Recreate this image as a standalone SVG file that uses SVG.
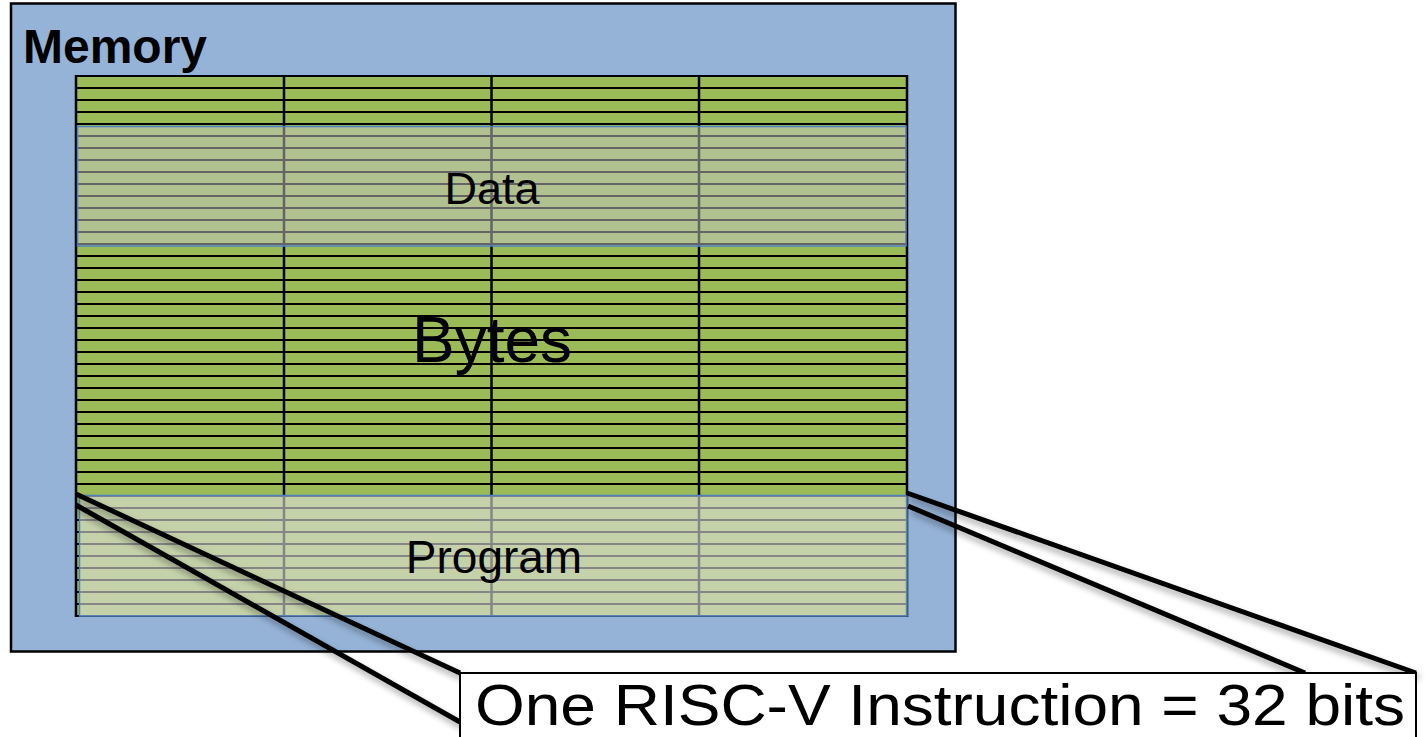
<svg xmlns="http://www.w3.org/2000/svg" width="1426" height="737" viewBox="0 0 1426 737">
  <defs>
    <style>
      .lbl { font-family: "Liberation Sans", Arial, sans-serif; fill: #000; }
      .row { stroke: #000; stroke-width: 2.2; }
      .col { stroke: #000; stroke-width: 2.5; }
      .link { stroke: #000; stroke-width: 5; fill: none; stroke-linecap: butt; }
    </style>
    <filter id="shadow" x="-10%" y="-10%" width="120%" height="130%">
      <feDropShadow dx="3" dy="5" stdDeviation="3" flood-color="#000" flood-opacity="0.35"/>
    </filter>
  </defs>

  <rect width="1426" height="737" fill="#ffffff"/>

  <!-- memory container -->
  <g id="memory">
    <rect x="11" y="3.5" width="944.5" height="648" fill="#95b3d7" stroke="#000" stroke-width="2.5"/>
    <text class="lbl" x="23" y="63" font-size="48" font-weight="bold">Memory</text>
  </g>

  <!-- byte grid: 45 rows of 12px, 4 columns -->
  <g id="bytes">
    <rect x="76" y="76" width="831" height="540" fill="#9bbb59"/>
    <g class="row">
      <path d="M76 76H907M76 88H907M76 100H907M76 112H907M76 124H907M76 136H907M76 148H907M76 160H907M76 172H907M76 184H907M76 196H907M76 208H907M76 220H907M76 232H907M76 244H907M76 256H907M76 268H907M76 280H907M76 292H907M76 304H907M76 316H907M76 328H907M76 340H907M76 352H907M76 364H907M76 376H907M76 388H907M76 400H907M76 412H907M76 424H907M76 436H907M76 448H907M76 460H907M76 472H907M76 484H907M76 496H907M76 508H907M76 520H907M76 532H907M76 544H907M76 556H907M76 568H907M76 580H907M76 592H907M76 604H907M76 616H907"/>
    </g>
    <g class="col">
      <path d="M76 75V617M284 75V617M491.5 75V617M699 75V617M907 75V617"/>
    </g>
    <text class="lbl" x="492" y="362" font-size="64" text-anchor="middle">Bytes</text>
  </g>

  <!-- data segment -->
  <g id="data">
    <rect x="77.5" y="126.5" width="828.5" height="119.5" fill="#c8c8c8" fill-opacity="0.5" stroke="#4f81bd" stroke-width="1.5"/>
    <text class="lbl" x="492" y="204" font-size="45" text-anchor="middle">Data</text>
  </g>

  <!-- program segment -->
  <g id="program">
    <rect x="79.5" y="495.5" width="827.5" height="120.5" fill="#e0e0e0" fill-opacity="0.6" stroke="#4f81bd" stroke-width="1.5"/>
    <text class="lbl" x="494" y="573" font-size="46" text-anchor="middle">Program</text>
  </g>

  <!-- zoom-out lines from one 32-bit row to the callout -->
  <g id="connectors" filter="url(#shadow)">
    <line class="link" x1="76" y1="494" x2="460" y2="673"/>
    <line class="link" x1="76" y1="505" x2="460" y2="722"/>
    <line class="link" x1="907" y1="493" x2="1416" y2="673"/>
    <line class="link" x1="908" y1="506" x2="1305" y2="673"/>
  </g>

  <!-- callout -->
  <g id="instruction">
    <rect x="460" y="673" width="956" height="80" fill="#ffffff" stroke="#000" stroke-width="2"/>
    <text class="lbl" x="475" y="725" font-size="57" textLength="930" lengthAdjust="spacingAndGlyphs">One RISC-V Instruction = 32 bits</text>
  </g>
</svg>
